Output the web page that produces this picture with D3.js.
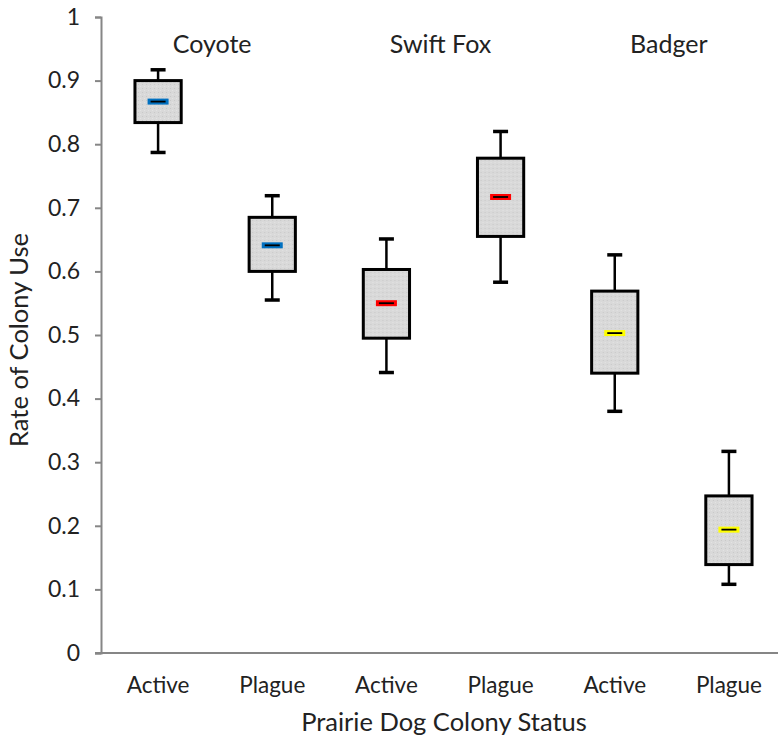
<!DOCTYPE html>
<html>
<head>
<meta charset="utf-8">
<script src="https://cdn.jsdelivr.net/npm/d3@7"></script>
<style>
  body { margin: 0; background: #fff; }
  svg text { font-family: Lato, "Open Sans", sans-serif; fill: #222; }
</style>
</head>
<body>
<div id="chart"></div>
<script>
// box plot of colony use rates by predator and prairie dog colony status
const predators = ["Coyote", "Swift Fox", "Badger"];
const statuses = ["Active", "Plague", "Active", "Plague", "Active", "Plague"];
const boxPredator = ["Coyote", "Coyote", "Swift Fox", "Swift Fox", "Badger", "Badger"];
const whiskerLow = [0.787, 0.555, 0.441, 0.583, 0.380, 0.108];
const q1Values = [0.834, 0.600, 0.495, 0.655, 0.440, 0.139];
const medianValues = [0.867, 0.641, 0.550, 0.717, 0.503, 0.194];
const q3Values = [0.900, 0.685, 0.603, 0.778, 0.569, 0.247];
const whiskerHigh = [0.917, 0.719, 0.651, 0.820, 0.626, 0.317];
const yTicks = [0, 0.1, 0.2, 0.3, 0.4, 0.5, 0.6, 0.7, 0.8, 0.9, 1];
const medianColors = { "Coyote": "#0070c0", "Swift Fox": "#ff0000", "Badger": "#ffff00" };

const width = 778, height = 744;
const margin = { top: 17, right: -8, bottom: 91, left: 101 };

const boxes = statuses.map((s, i) => ({
    id: i, status: s, predator: boxPredator[i],
    lo: whiskerLow[i], q1: q1Values[i], med: medianValues[i], q3: q3Values[i], hi: whiskerHigh[i]
}));

const svg = d3.select("#chart").append("svg")
    .attr("width", width)
    .attr("height", height);

const x = d3.scaleBand()
    .domain(boxes.map(d => d.id))
    .range([margin.left, width - margin.right])
    .paddingInner(0)
    .paddingOuter(0);

const y = d3.scaleLinear()
    .domain([0, 1])
    .range([height - margin.bottom, margin.top]);

// stipple pattern for the box fill
const defs = svg.append("defs");
const pat = defs.append("pattern")
    .attr("id", "stipple")
    .attr("width", 4).attr("height", 4)
    .attr("patternUnits", "userSpaceOnUse");
pat.append("rect").attr("width", 4).attr("height", 4).attr("fill", "#d9d9d9");
pat.append("rect").attr("x", 0).attr("y", 0).attr("width", 1).attr("height", 1).attr("fill", "#c8c8c8");
pat.append("rect").attr("x", 2).attr("y", 2).attr("width", 1).attr("height", 1).attr("fill", "#e4e4e4");

// y axis
const yAxis = svg.append("g")
    .attr("transform", `translate(${margin.left},0)`)
    .call(d3.axisLeft(y).tickValues(yTicks).tickSize(6).tickPadding(15).tickFormat(d => d3.format("~g")(d)));
yAxis.select(".domain").attr("stroke", "#868686").attr("stroke-width", 2);
yAxis.selectAll(".tick line").attr("stroke", "#868686").attr("stroke-width", 2);
yAxis.selectAll("text").style("font-size", "23px").attr("fill", "#222");

// x axis
const xAxis = svg.append("g")
    .attr("transform", `translate(0,${y(0)})`)
    .call(d3.axisBottom(x).tickSize(0).tickPadding(24).tickFormat(i => statuses[i]));
xAxis.select(".domain").attr("stroke", "#868686").attr("stroke-width", 2)
    .attr("d", `M${margin.left - 6},0H${width}`);
xAxis.selectAll("text").style("font-size", "22.5px").attr("fill", "#222");

const boxW = x.bandwidth() * 0.405;
const capW = 15;
const g = svg.append("g");

const box = g.selectAll(".box")
    .data(boxes)
    .enter().append("g")
    .attr("class", "box")
    .attr("transform", d => `translate(${x(d.id) + x.bandwidth() / 2},0)`);

// whiskers
box.append("line")
    .attr("x1", 0).attr("x2", 0)
    .attr("y1", d => y(d.hi)).attr("y2", d => y(d.q3))
    .attr("stroke", "#000").attr("stroke-width", 2.5);
box.append("line")
    .attr("x1", 0).attr("x2", 0)
    .attr("y1", d => y(d.q1)).attr("y2", d => y(d.lo))
    .attr("stroke", "#000").attr("stroke-width", 2.5);
box.append("line")
    .attr("x1", -capW / 2).attr("x2", capW / 2)
    .attr("y1", d => y(d.hi)).attr("y2", d => y(d.hi))
    .attr("stroke", "#000").attr("stroke-width", 3.5);
box.append("line")
    .attr("x1", -capW / 2).attr("x2", capW / 2)
    .attr("y1", d => y(d.lo)).attr("y2", d => y(d.lo))
    .attr("stroke", "#000").attr("stroke-width", 3.5);

// box
box.append("rect")
    .attr("x", -boxW / 2)
    .attr("width", boxW)
    .attr("y", d => y(d.q3))
    .attr("height", d => y(d.q1) - y(d.q3))
    .attr("fill", "url(#stipple)")
    .attr("stroke", "#000")
    .attr("stroke-width", 3);

// median marker
box.append("rect")
    .attr("x", -10.5).attr("width", 21)
    .attr("y", d => y(d.med) - 3).attr("height", 6)
    .attr("fill", d => medianColors[d.predator]);
box.append("line")
    .attr("x1", -7.5).attr("x2", 7.5)
    .attr("y1", d => y(d.med)).attr("y2", d => y(d.med))
    .attr("stroke", "#000").attr("stroke-width", 1.8);

// predator labels over each pair
svg.selectAll(".pred-label")
    .data(predators)
    .enter().append("text")
    .attr("class", "pred-label")
    .attr("x", p => {
        const ids = boxes.filter(b => b.predator === p).map(b => x(b.id) + x.bandwidth() / 2);
        return d3.mean(ids) - 3;
    })
    .attr("y", y(0.95) + 4)
    .attr("text-anchor", "middle")
    .style("font-size", "25px")
    .text(p => p);

// axis titles
svg.append("text")
    .attr("transform", `translate(28,340) rotate(-90)`)
    .attr("text-anchor", "middle")
    .style("font-size", "25.5px")
    .text("Rate of Colony Use");

svg.append("text")
    .attr("x", 444)
    .attr("y", 731)
    .attr("text-anchor", "middle")
    .style("font-size", "25.5px")
    .text("Prairie Dog Colony Status");
</script>
</body>
</html>
